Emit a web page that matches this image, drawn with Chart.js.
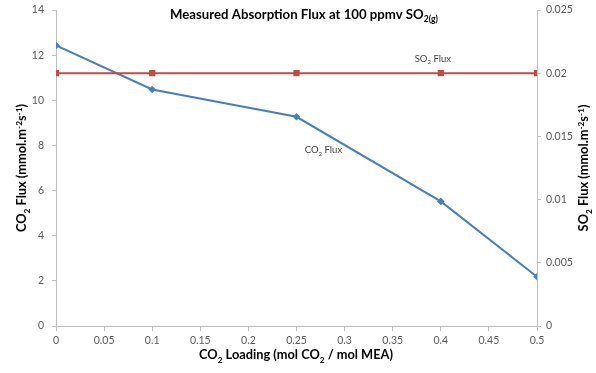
<!DOCTYPE html>
<html><head><meta charset="utf-8">
<script src="https://cdn.jsdelivr.net/npm/chart.js@4/dist/chart.umd.min.js"></script>
<style>html,body{margin:0;padding:0;background:#fff}#wrap{width:596px;height:373px}</style>
</head><body><div id="wrap"><canvas id="c"></canvas></div>
<script>
const loadings = [0, 0.1, 0.25, 0.4, 0.5];
const co2Flux = [12.43, 10.48, 9.27, 5.52, 2.18];
const so2Flux = [0.02, 0.02, 0.02, 0.02, 0.02];
const xTicks = [0, 0.05, 0.1, 0.15, 0.2, 0.25, 0.3, 0.35, 0.4, 0.45, 0.5];

const FONT = 'Lato, "Open Sans", sans-serif';
const TICK = '#595959';
const AXIS = '#bfbfbf';

function drawRich(ctx, segs, x, y, size, bold, align, rot, color) {
  ctx.save();
  ctx.translate(x, y);
  if (rot) ctx.rotate(rot);
  ctx.fillStyle = color || '#000';
  ctx.textBaseline = 'alphabetic';
  const w = (s) => { ctx.font = (bold ? 'bold ' : '') + (s.sub || s.sup ? size * 0.65 : size) + 'px ' + FONT; return ctx.measureText(s.t).width; };
  let total = 0; segs.forEach(s => total += w(s));
  let cx = align === 'center' ? -total / 2 : 0;
  segs.forEach(s => {
    const ww = w(s);
    ctx.textAlign = 'left';
    let dy = 0;
    if (s.sub) dy = size * 0.25;
    if (s.sup) dy = -size * 0.38;
    ctx.fillText(s.t, cx, dy + size * 0.35);
    cx += ww;
  });
  ctx.restore();
}

const annot = {
  id: 'annot',
  afterDraw(chart) {
    const ctx = chart.ctx;
    const xs = chart.scales.x, yl = chart.scales.y, yr = chart.scales.y2;
    drawRich(ctx, [{t:'Measured Absorption Flux at 100 ppmv SO'},{t:'2(g)',sub:true}], 304, 14, 13.2, true, 'center', 0, '#000');
    drawRich(ctx, [{t:'CO'},{t:'2',sub:true},{t:' Loading (mol CO'},{t:'2',sub:true},{t:' / mol MEA)'}], 296, 355, 12.8, true, 'center', 0, '#000');
    drawRich(ctx, [{t:'CO'},{t:'2',sub:true},{t:' Flux (mmol.m'},{t:'-2',sup:true},{t:'s'},{t:'-1',sup:true},{t:')'}], 22, 168, 12.8, true, 'center', -Math.PI/2, '#000');
    drawRich(ctx, [{t:'SO'},{t:'2',sub:true},{t:' Flux (mmol.m'},{t:'-2',sup:true},{t:'s'},{t:'-1',sup:true},{t:')'}], 584, 168, 12.8, true, 'center', -Math.PI/2, '#000');
    drawRich(ctx, [{t:'SO'},{t:'2',sub:true},{t:' Flux'}], xs.getPixelForValue(0.4) - 8, yr.getPixelForValue(0.02) - 15, 9.5, false, 'center', 0, '#404040');
    drawRich(ctx, [{t:'CO'},{t:'2',sub:true},{t:' Flux'}], xs.getPixelForValue(0.278), yl.getPixelForValue(7.8), 9.5, false, 'center', 0, '#404040');
  }
};

function fixV(s, w) { s.width = w; s.paddingTop = 0; s.paddingBottom = 0; }

new Chart(document.getElementById('c'), {
  type: 'line',
  data: {
    datasets: [
      { label: 'SO2 Flux', data: loadings.map((x, i) => ({x, y: so2Flux[i]})), yAxisID: 'y2',
        borderColor: '#be4b48', backgroundColor: '#be4b48', borderWidth: 2, pointStyle: 'rect', pointRadius: 3, tension: 0 },
      { label: 'CO2 Flux', data: loadings.map((x, i) => ({x, y: co2Flux[i]})), yAxisID: 'y',
        borderColor: '#4a7ebb', backgroundColor: '#4a7ebb', borderWidth: 2, pointStyle: 'rectRot', pointRadius: 2.4, tension: 0 }
    ]
  },
  options: {
    responsive: true, maintainAspectRatio: false, animation: false,
    layout: { padding: { left: 0, right: 0, top: 10, bottom: 0 } },
    plugins: { legend: { display: false }, tooltip: { enabled: false } },
    scales: {
      x: {
        type: 'linear', min: 0, max: 0.5,
        afterBuildTicks: (s) => { s.ticks = xTicks.map(v => ({value: v})); },
        afterFit: (s) => { s.height = 47; s.paddingLeft = 0; s.paddingRight = 0; },
        grid: { drawOnChartArea: false, color: AXIS, tickLength: 5 },
        border: { color: AXIS },
        ticks: { color: TICK, font: { family: FONT, size: 10.5 }, padding: 3, maxRotation: 0, autoSkip: false,
          callback: (v) => String(Number(v.toFixed(2))) }
      },
      y: {
        position: 'left', min: 0, max: 14,
        ticks: { stepSize: 2, color: TICK, font: { family: FONT, size: 10.5 }, padding: 8 },
        afterFit: (s) => fixV(s, 56),
        grid: { drawOnChartArea: false, color: AXIS, tickLength: 4 },
        border: { color: AXIS }
      },
      y2: {
        position: 'right', min: 0, max: 0.025,
        ticks: { stepSize: 0.005, color: TICK, font: { family: FONT, size: 10.5 }, padding: 5,
          callback: (v) => String(Number(v.toFixed(3))) },
        afterFit: (s) => fixV(s, 59),
        grid: { drawOnChartArea: false, color: AXIS, tickLength: 4 },
        border: { color: AXIS }
      }
    }
  },
  plugins: [annot]
});
</script></body></html>
